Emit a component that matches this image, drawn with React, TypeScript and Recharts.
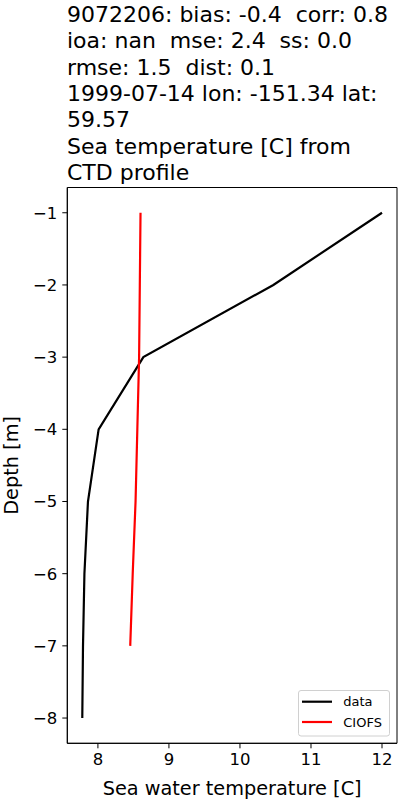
import React from "react";
import { LineChart, Line, XAxis, YAxis, ReferenceArea, Label } from "recharts";

const titleLines = [
  "9072206: bias: -0.4  corr: 0.8",
  "ioa: nan  mse: 2.4  ss: 0.0",
  "rmse: 1.5  dist: 0.1",
  "1999-07-14 lon: -151.34 lat:",
  "59.57",
  "Sea temperature [C] from",
  "CTD profile",
];

const obsDepth = [-1, -2, -3, -4, -5, -6, -7, -8];
const obsTemp = [12.0, 10.47, 8.64, 8.01, 7.86, 7.81, 7.79, 7.78];
const modelDepth = [-1, -2, -3, -4, -5, -6, -7];
const modelTemp = [8.6, 8.59, 8.58, 8.555, 8.53, 8.49, 8.455];

const xTicks = [8, 9, 10, 11, 12];
const yTicks = [-1, -2, -3, -4, -5, -6, -7, -8];
const xDomain = [7.569, 12.211];
const yDomain = [-8.35, -0.65];

const seriesNames = ["data", "CIOFS"];
const seriesColors = ["#000000", "#ff0000"];

const obsData = obsDepth.map((d, i) => ({ depth: d, temp: obsTemp[i] }));
const modelData = modelDepth.map((d, i) => ({ depth: d, temp: modelTemp[i] }));

const FONT = "'DejaVu Sans', sans-serif";
const fmt = (v: number) => String(v).replace("-", "\u2212");

export default function App() {
  return (
    <div style={{ position: "absolute", left: 0, top: 0, width: 400, height: 800, background: "#fff" }}>
      <LineChart
        width={400}
        height={800}
        margin={{ top: 187.5, right: 3, bottom: 0, left: 0 }}
        style={{ fontFamily: FONT }}
      >
        <XAxis
          type="number"
          dataKey="temp"
          domain={xDomain}
          ticks={xTicks}
          allowDataOverflow
          height={56.7}
          tickSize={5}
          tickMargin={5}
          tickFormatter={fmt}
          tick={{ fill: "#000", fontSize: 16.5, fontFamily: FONT }}
          axisLine={{ stroke: "#000" }}
          tickLine={{ stroke: "#000" }}
        >
          <Label
            value="Sea water temperature [C]"
            position="insideBottom"
            offset={5}
            style={{ fill: "#000", fontSize: 19.3, fontFamily: FONT }}
          />
        </XAxis>
        <YAxis
          type="number"
          domain={yDomain}
          ticks={yTicks}
          allowDataOverflow
          width={67.3}
          tickSize={5}
          tickMargin={5}
          tickFormatter={fmt}
          tick={{ fill: "#000", fontSize: 16.5, fontFamily: FONT }}
          axisLine={{ stroke: "#000" }}
          tickLine={{ stroke: "#000" }}
        >
          <Label
            value="Depth [m]"
            angle={-90}
            position="insideLeft"
            offset={11.5}
            style={{ fill: "#000", fontSize: 19.3, fontFamily: FONT, textAnchor: "middle" }}
          />
        </YAxis>
        <ReferenceArea
          x1={xDomain[0]}
          x2={xDomain[1]}
          y1={yDomain[0]}
          y2={yDomain[1]}
          fill="none"
          stroke="#000"
          strokeWidth={1}
          ifOverflow="visible"
        />
        <Line
          data={obsData}
          dataKey="depth"
          name={seriesNames[0]}
          stroke={seriesColors[0]}
          strokeWidth={2.2}
          dot={false}
          type="linear"
          isAnimationActive={false}
        />
        <Line
          data={modelData}
          dataKey="depth"
          name={seriesNames[1]}
          stroke={seriesColors[1]}
          strokeWidth={2.2}
          dot={false}
          type="linear"
          isAnimationActive={false}
        />
      </LineChart>
      <svg
        width={400}
        height={800}
        style={{ position: "absolute", left: 0, top: 0, pointerEvents: "none" }}
      >
        {titleLines.map((t, i) => (
          <text
            key={i}
            x={67}
            y={21.7 + i * 26.4}
            fontSize={22}
            fontFamily={FONT}
            fill="#000"
            style={{ whiteSpace: "pre" }}
            xmlSpace="preserve"
          >
            {t}
          </text>
        ))}
        <rect x={298.5} y={690.5} width={91} height={45.5} rx={2.5} fill="#fff" fillOpacity={0.8} stroke="#d0d0d0" strokeWidth={1} />
        {seriesNames.map((n, i) => (
          <g key={n}>
            <line x1={302} x2={332} y1={701.7 + i * 20.3} y2={701.7 + i * 20.3} stroke={seriesColors[i]} strokeWidth={2.2} />
            <text x={343.3} y={701.7 + i * 20.3 + 4.6} fontSize={13} fontFamily={FONT} fill="#000">
              {n}
            </text>
          </g>
        ))}
      </svg>
    </div>
  );
}
